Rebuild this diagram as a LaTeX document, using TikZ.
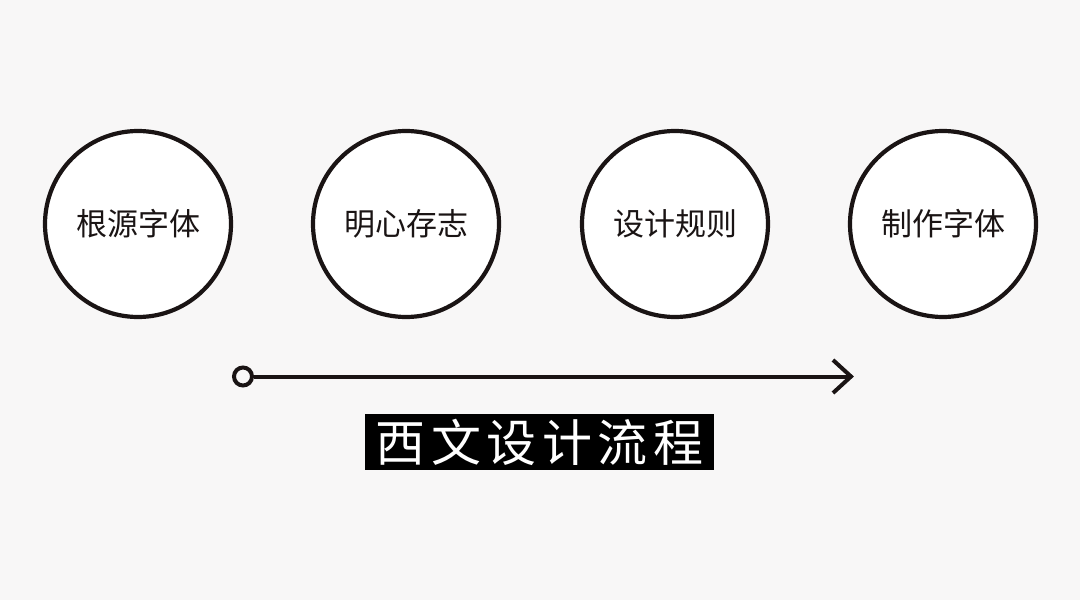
\documentclass[tikz,border=0pt]{standalone}
\usepackage{fontspec}
\newfontfamily\cjk{Noto Sans CJK SC}
\definecolor{bg}{HTML}{F8F7F7}
\definecolor{ink}{HTML}{1A1414}
\begin{document}
\begin{tikzpicture}[x=1pt,y=-1pt,
  stage/.style={circle,draw=ink,line width=4.2pt,fill=white,minimum size=186pt,inner sep=0pt,font=\cjk\fontsize{31}{34}\selectfont,text=ink},
  flow/.style={draw=ink,line width=4pt}]
\fill[bg] (0,0) rectangle (1080,600);
\useasboundingbox (0,0) rectangle (1080,600);
\node[stage] (s1) at (138,224) {根源字体};
\node[stage] (s2) at (406,224) {明心存志};
\node[stage] (s3) at (675,224) {设计规则};
\node[stage] (s4) at (943,224) {制作字体};
\node[circle,draw=ink,line width=4pt,minimum size=18pt,inner sep=0pt,fill=bg] (start) at (243,376.5) {};
\coordinate (end) at (851,376.5);
\draw[flow] (start) -- (end);
\draw[flow,line cap=butt] (833,360) -- (end) -- (833,393);
\node[fill=black,text=white,minimum width=349pt,minimum height=56pt,inner sep=0pt,font=\cjk\fontsize{50}{54}\selectfont] (title) at (539.5,442) {西\hspace{5.5pt}文\hspace{5.5pt}设\hspace{5.5pt}计\hspace{5.5pt}流\hspace{5.5pt}程};
\end{tikzpicture}
\end{document}
